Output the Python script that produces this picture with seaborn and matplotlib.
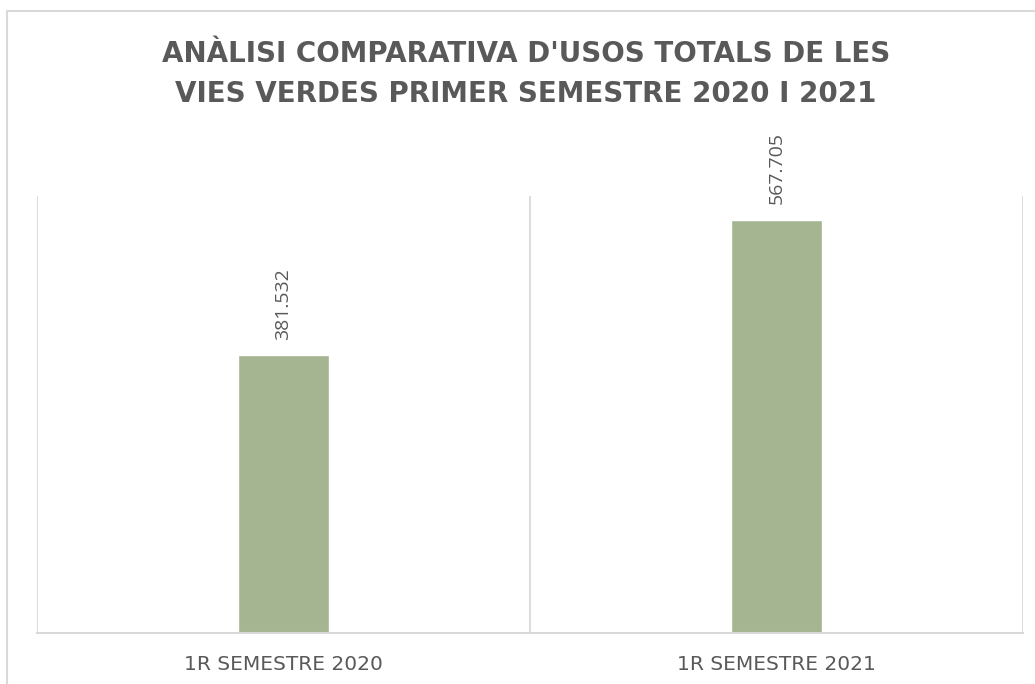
import pandas as pd
import seaborn as sns
import matplotlib.pyplot as plt
from matplotlib.lines import Line2D

# dades
categories = ['1R SEMESTRE 2020', '1R SEMESTRE 2021']
usos_totals = [381532, 567705]
titol = "ANÀLISI COMPARATIVA D'USOS TOTALS DE LES\nVIES VERDES PRIMER SEMESTRE 2020 I 2021"

verd = '#A6B591'
gris_text = '#595959'
gris_linia = '#D9D9D9'

sns.set_style('white')
plt.rcParams['font.family'] = ['Open Sans', 'DejaVu Sans']

df = pd.DataFrame({'periode': categories, 'usos': usos_totals})

fig = plt.figure(figsize=(10.35, 6.84), dpi=100)
ax = fig.add_axes([37 / 1035, 51 / 684, 986 / 1035, 437 / 684])

sns.barplot(data=df, x='periode', y='usos', color=verd, width=0.183,
            saturation=1, ax=ax)

ax.set_xlim(-0.5, 1.5)
ax.set_ylim(0, 600000)

# separadors de categoria
for x in [-0.5, 0.5, 1.5]:
    ax.axvline(x, color=gris_linia, lw=1.3, zorder=0)

for s in ['top', 'left', 'right']:
    ax.spines[s].set_visible(False)
ax.spines['bottom'].set_color(gris_linia)
ax.spines['bottom'].set_linewidth(1.5)

ax.set_yticks([])
ax.set_xlabel('')
ax.set_ylabel('')
ax.tick_params(axis='x', length=0, pad=16, labelcolor=gris_text)
for lbl in ax.get_xticklabels():
    lbl.set_fontfamily('DejaVu Sans')
    lbl.set_fontsize(14.5)

# etiquetes de valor
for i, v in enumerate(usos_totals):
    ax.annotate(f'{v:,}'.replace(',', '.'), (i, v), xytext=(0, 11),
                textcoords='offset points', rotation=90, ha='center',
                va='bottom', fontsize=14, color=gris_text)

fig.text(0.508, 1 - 74 / 684, titol, ha='center', va='center',
         fontsize=20, fontweight='bold', color=gris_text,
         linespacing=1.52, family='DejaVu Sans')

# marc del gràfic
fig.add_artist(Line2D([7 / 1035, 1], [1 - 11 / 684, 1 - 11 / 684],
                      color=gris_linia, lw=1.5))
fig.add_artist(Line2D([7 / 1035, 7 / 1035], [0, 1 - 11 / 684],
                      color=gris_linia, lw=1.5))

fig.savefig('out.png', dpi=100)
